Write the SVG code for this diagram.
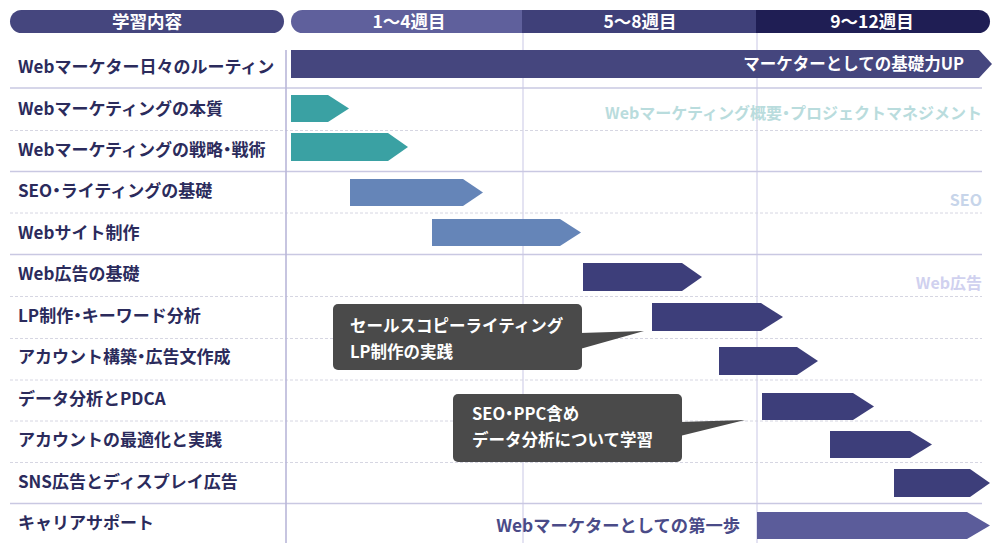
<svg xmlns="http://www.w3.org/2000/svg" width="1000" height="543" viewBox="0 0 1000 543">
<style>
text{font-family:"Noto Sans CJK JP","Noto Sans",sans-serif;font-weight:700}
.p{font-feature-settings:"palt"}
.lbl{font-size:17px;fill:#2b2b5c}
.hd{font-size:17.5px;fill:#ffffff}
.sol{stroke:#c9c8e2;stroke-width:1.3}
.dash{stroke:#d6d6e2;stroke-width:1;stroke-dasharray:3 2}
.vl{stroke:#d2d0ea;stroke-width:1.2}
.teal{fill:#3aa1a3}
.blue{fill:#6585b8}
.navy{fill:#3d3e7a}
.wt{fill:#ffffff;font-size:16.5px}
.co{fill:#4a4a4a}
.cot{fill:#ffffff;font-size:16.5px;font-weight:700}
.faint{font-size:16px;text-anchor:end}
</style>
<rect width="1000" height="543" fill="#ffffff"/>
<g id="header">
<rect x="10" y="10" width="274" height="23" rx="11.5" fill="#45467e"/>
<text class="hd" x="147" y="27.5" text-anchor="middle">学習内容</text>
<path d="M302.5,10 H522 V33 H302.5 A11.5,11.5 0 0 1 302.5,10 Z" fill="#5f609c"/>
<rect x="522" y="10" width="235" height="23" fill="#3f4079"/>
<path d="M756,10 H978.5 A11.5,11.5 0 0 1 978.5,33 H756 Z" fill="#1f1e54"/>
<text class="hd" x="409" y="27.5" text-anchor="middle">1〜4週目</text>
<text class="hd" x="640" y="27.5" text-anchor="middle">5〜8週目</text>
<text class="hd" x="872" y="27.5" text-anchor="middle">9〜12週目</text>
</g>
<g id="grid">
<line class="vl" x1="523" y1="33" x2="523" y2="543"/>
<line class="vl" x1="757" y1="33" x2="757" y2="543"/>
<line class="sol" x1="10" y1="88" x2="982" y2="88"/>
<line class="dash" x1="10" y1="130.5" x2="982" y2="130.5"/>
<line class="sol" x1="10" y1="171.5" x2="982" y2="171.5"/>
<line class="dash" x1="10" y1="213" x2="982" y2="213"/>
<line class="sol" x1="10" y1="254.5" x2="982" y2="254.5"/>
<line class="dash" x1="10" y1="296.5" x2="982" y2="296.5"/>
<line class="dash" x1="10" y1="338.5" x2="982" y2="338.5"/>
<line class="dash" x1="10" y1="380" x2="982" y2="380"/>
<line class="dash" x1="10" y1="421" x2="982" y2="421"/>
<line class="dash" x1="10" y1="462.5" x2="982" y2="462.5"/>
<line class="sol" x1="10" y1="503.5" x2="982" y2="503.5"/>
<line x1="286" y1="50" x2="286" y2="543" stroke="#b9b7d9" stroke-width="1.6"/>
</g>
<g id="faint-labels">
<text class="faint" x="982" y="119" fill="#b9dcdd">Webマーケティング概要<tspan class="p">・</tspan>プロジェクトマネジメント</text>
<text class="faint" x="982" y="206" fill="#c7d5ea">SEO</text>
<text class="faint" x="982" y="289" fill="#d0d1ef">Web広告</text>
</g>
<g id="labels">
<text class="lbl" x="18" y="73">Webマーケター日々のルーティン</text>
<text class="lbl" x="18" y="115">Webマーケティングの本質</text>
<text class="lbl" x="18" y="156">Webマーケティングの戦略<tspan class="p">・</tspan>戦術</text>
<text class="lbl" x="18" y="197">SEO<tspan class="p">・</tspan>ライティングの基礎</text>
<text class="lbl" x="18" y="239">Webサイト制作</text>
<text class="lbl" x="18" y="280">Web広告の基礎</text>
<text class="lbl" x="18" y="322">LP制作<tspan class="p">・</tspan>キーワード分析</text>
<text class="lbl" x="18" y="363">アカウント構築<tspan class="p">・</tspan>広告文作成</text>
<text class="lbl" x="18" y="405">データ分析とPDCA</text>
<text class="lbl" x="18" y="446">アカウントの最適化と実践</text>
<text class="lbl" x="18" y="488">SNS広告とディスプレイ広告</text>
<text class="lbl" x="18" y="529">キャリアサポート</text>
</g>
<g id="bar-routine">
<polygon points="291,50 979,50 992,64 979,78 291,78" fill="#45467e"/>
<text class="wt" x="964" y="70" text-anchor="end">マーケターとしての基礎力UP</text>
</g>
<g id="bar-honshitsu"><polygon class="teal" points="291,95 328,95 349,108.5 328,122 291,122"/></g>
<g id="bar-senryaku"><polygon class="teal" points="291,133 388,133 408,147 388,161 291,161"/></g>
<g id="bar-seo"><polygon class="blue" points="350,179 463,179 483,192.5 463,206 350,206"/></g>
<g id="bar-site"><polygon class="blue" points="432,219 560,219 581,232.5 560,246 432,246"/></g>
<g id="bar-ad"><polygon class="navy" points="583,263 682,263 702,277 682,291 583,291"/></g>
<g id="bar-lp"><polygon class="navy" points="652,303 761,303 783,317 761,331 652,331"/></g>
<g id="bar-account"><polygon class="navy" points="719,347 797,347 818,361 797,375 719,375"/></g>
<g id="bar-pdca"><polygon class="navy" points="762,393 853,393 874,406.5 853,420 762,420"/></g>
<g id="bar-opt"><polygon class="navy" points="830,431 910,431 932,444.5 910,458 830,458"/></g>
<g id="bar-sns"><polygon class="navy" points="894,469 970,469 990,483 970,497 894,497"/></g>
<g id="bar-career">
<polygon points="757,512 967,512 990,525.5 967,539 757,539" fill="#5b5c9a"/>
<text x="740" y="531.5" text-anchor="end" font-size="17.3" fill="#4a4b88">Webマーケターとしての第一歩</text>
</g>
<g id="callout-copy">
<rect class="co" x="333" y="304" width="249" height="66" rx="5"/>
<polygon class="co" points="580,333 644,331 580,349"/>
<text class="cot" x="350" y="332">セールスコピーライティング</text>
<text class="cot" x="350" y="358">LP制作の実践</text>
</g>
<g id="callout-data">
<rect class="co" x="453" y="394" width="229" height="68" rx="5"/>
<polygon class="co" points="680,422 745,420 680,436"/>
<text class="cot" x="472" y="420">SEO<tspan class="p">・</tspan>PPC含め</text>
<text class="cot" x="472" y="446">データ分析について学習</text>
</g>
<g id="connectors"></g>
</svg>
